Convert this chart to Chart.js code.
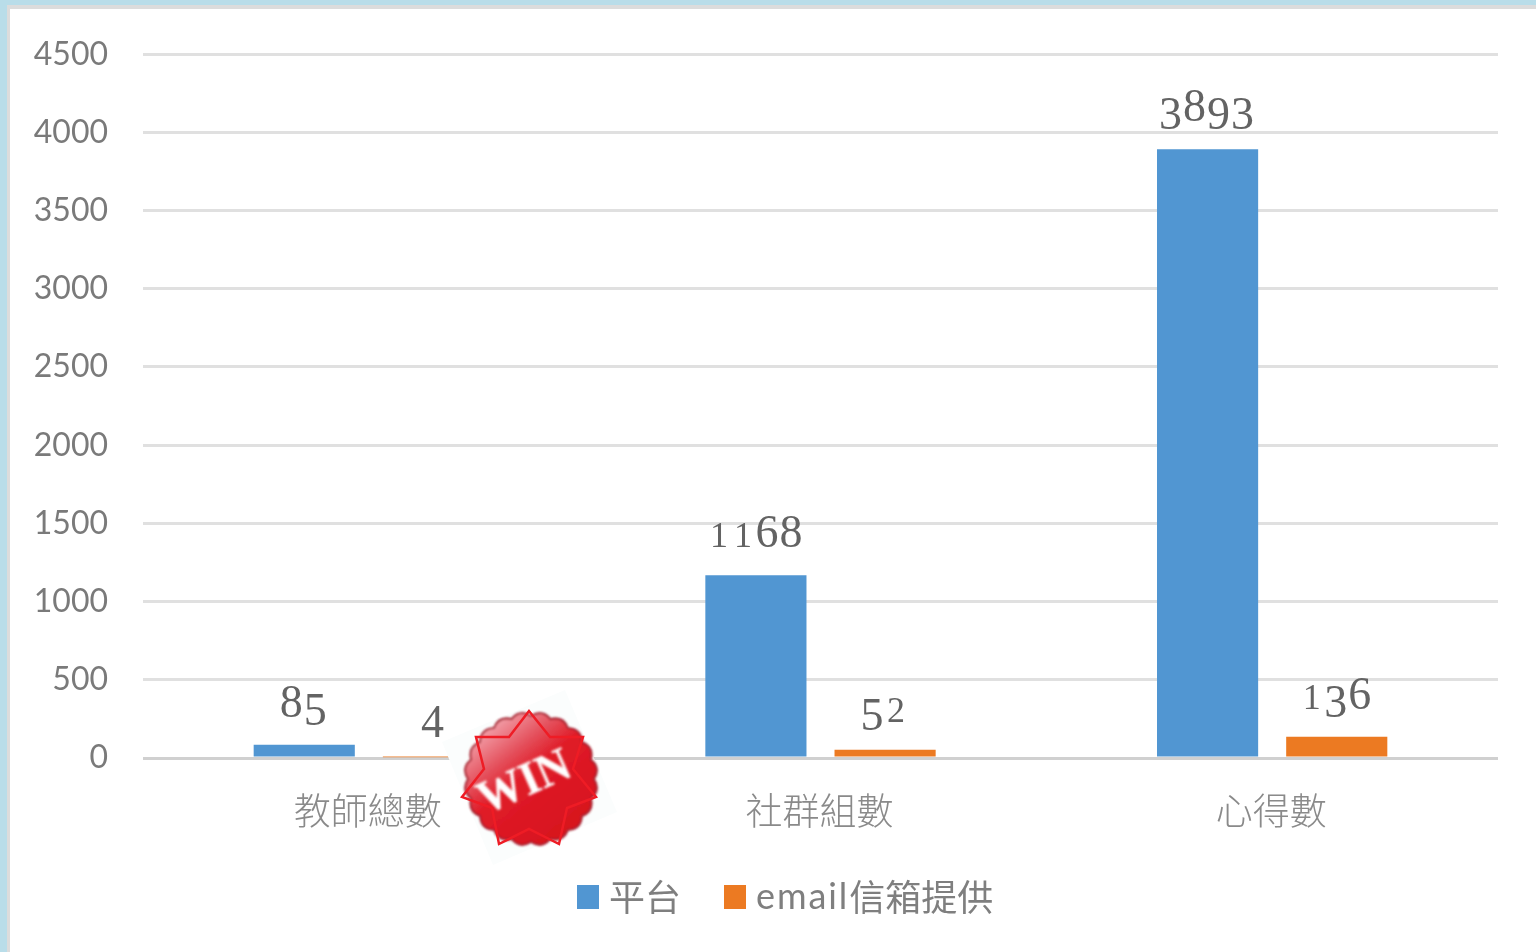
<!DOCTYPE html>
<html>
<head>
<meta charset="utf-8">
<script src="https://cdn.jsdelivr.net/npm/chart.js@4/dist/chart.umd.min.js"></script>
<style>
html, body { margin:0; padding:0; width:1536px; height:952px; overflow:hidden; background:#b9dde9; }
#paper { position:absolute; left:7px; top:5px; width:1529px; height:947px; background:#dcdcdc; }
#sheet { position:absolute; left:10px; top:9px; width:1526px; height:943px; background:#fff; }
#chart { position:absolute; left:34px; top:0; }
#badge { position:absolute; left:0; top:0; }
#legend { position:absolute; left:577px; top:871px; height:48px; display:flex; align-items:center; color:#7f7f7f;
	font:36px Lato, "Noto Sans CJK TC"; white-space:nowrap; }
#legend i { display:inline-block; width:22px; height:24px; margin-right:10px; margin-top:4px; }
#legend span { display:flex; align-items:center; margin-right:43px; }
#legend b { font-weight:normal; letter-spacing:1.9px; }
</style>
</head>
<body>
<div id="paper"></div>
<div id="sheet"></div>
<canvas id="chart" width="1502" height="952"></canvas>
<div id="legend"></div>
<svg id="badge" width="1536" height="952" xmlns="http://www.w3.org/2000/svg">
	<defs>
		<linearGradient id="seal" x1="0.15" y1="0.1" x2="0.75" y2="0.85">
			<stop offset="0" stop-color="#f3a5ae"/>
			<stop offset="0.3" stop-color="#e4505c"/>
			<stop offset="0.5" stop-color="#e01c28"/>
			<stop offset="1" stop-color="#d8141f"/>
		</linearGradient>
		<filter id="soft"><feGaussianBlur stdDeviation="0.9"/></filter>
	</defs>
	<polygon points="442,742 565,690 617,812 493,865" fill="#fbfdfd"/>
	<path id="scallop" fill="url(#seal)" stroke="#a82430" stroke-width="2" filter="url(#soft)"/>
	<text x="0" y="0" transform="translate(530,795) rotate(-24)" text-anchor="middle" fill="#fff" stroke="#f7d8d8" stroke-width="0.5"
		font-family="Liberation Serif" font-weight="bold" font-size="46" filter="url(#soft)">WIN</text>
	<polygon fill="none" stroke="#ee1c25" stroke-width="2.5"
		points="529,711 550,737 583,737 573,769 596,797 567,808 559,844 529,829 499,844 492,808 462,797 484,769 476,737 509,737"/>
</svg>
<script>
var categories = ['教師總數', '社群組數', '心得數'];
var platform = [85, 1168, 3893];
var emailGiven = [4, 52, 136];
var seriesNames = ['平台', 'email信箱提供'];
var seriesColors = ['#5196d2', '#ec7a22'];

// old style figures, the serif font only has lining ones
var digitStyle = {
	'0': [0.78, 0], '1': [0.78, 0], '2': [0.78, 0],
	'3': [1, 0.17], '4': [1, 0.17], '5': [1, 0.17], '7': [1, 0.17], '9': [1, 0.17],
	'6': [1, 0], '8': [1, 0]
};

function drawValue(ctx, text, cx, baseline) {
	var size = 46, adv = 24;
	var x = cx - adv * text.length / 2;
	for (var i = 0; i < text.length; i++) {
		var st = digitStyle[text[i]];
		ctx.font = Math.round(size * st[0]) + 'px "Liberation Serif"';
		ctx.textAlign = 'center';
		ctx.textBaseline = 'alphabetic';
		ctx.fillStyle = '#636363';
		ctx.fillText(text[i], x + adv * (i + 0.5), baseline + size * st[1]);
	}
}

var valueLabels = {
	id: 'valueLabels',
	afterDatasetsDraw: function(chart) {
		chart.data.datasets.forEach(function(ds, d) {
			chart.getDatasetMeta(d).data.forEach(function(bar, i) {
				drawValue(chart.ctx, String(ds.data[i]), bar.x - 1, bar.y - 28);
			});
		});
	}
};

function scallopPath(cx, cy, r, lobes) {
	var p = '';
	for (var i = 0; i < lobes; i++) {
		var a0 = i / lobes * 2 * Math.PI;
		var a1 = (i + 0.5) / lobes * 2 * Math.PI;
		var a2 = (i + 1) / lobes * 2 * Math.PI;
		if (i == 0) p += 'M' + (cx + r * Math.cos(a0)) + ' ' + (cy + r * Math.sin(a0));
		p += 'Q' + (cx + (r + 8) * Math.cos(a1)) + ' ' + (cy + (r + 8) * Math.sin(a1)) + ' ' + (cx + r * Math.cos(a2)) + ' ' + (cy + r * Math.sin(a2));
	}
	return p + 'Z';
}
document.getElementById('scallop').setAttribute('d', scallopPath(531, 779, 63, 20));

var elegend = document.getElementById('legend');
seriesNames.forEach(function(name, i) {
	var item = document.createElement('span');
	var box = document.createElement('i');
	box.style.background = seriesColors[i];
	item.appendChild(box);
	var m = name.match(/^([a-z]*)(.*)$/);
	if (m[1]) {
		var latin = document.createElement('b');
		latin.textContent = m[1];
		item.appendChild(latin);
	}
	item.appendChild(document.createTextNode(m[2]));
	elegend.appendChild(item);
});

new Chart(document.getElementById('chart'), {
	type: 'bar',
	data: {
		labels: categories,
		datasets: [
			{ label: seriesNames[0], data: platform, backgroundColor: seriesColors[0] },
			{ label: seriesNames[1], data: emailGiven, backgroundColor: seriesColors[1] }
		]
	},
	options: {
		responsive: false,
		animation: false,
		layout: { padding: { left: 0, right: 38, top: 25, bottom: 116 } },
		datasets: { bar: { categoryPercentage: 0.572, barPercentage: 0.783 } },
		plugins: {
			title: { display: false },
			tooltip: { enabled: false },
			legend: { display: false }
		},
		scales: {
			x: {
				afterFit: function(scale) { scale.height = 78; },
				grid: { display: false, drawTicks: false },
				border: { display: false },
				ticks: {
					padding: 31,
					labelOffset: -1,
					color: '#8a8a8a',
					maxRotation: 0,
					font: { size: 37, family: '"Noto Sans CJK TC"', weight: '300' }
				}
			},
			y: {
				min: 0,
				max: 4500,
				afterFit: function(scale) { scale.width = 109; },
				grid: {
					lineWidth: 3,
					drawTicks: false,
					color: function(c) { return c.tick.value == 0 ? '#d0d0d0' : '#e0e0e0'; }
				},
				border: { display: false },
				ticks: {
					stepSize: 500,
					padding: 35,
					color: '#7a7a7a',
					font: { size: 32, family: 'Lato' },
					callback: function(v) { return String(v); }
				}
			}
		}
	},
	plugins: [valueLabels]
});
</script>
</body>
</html>
